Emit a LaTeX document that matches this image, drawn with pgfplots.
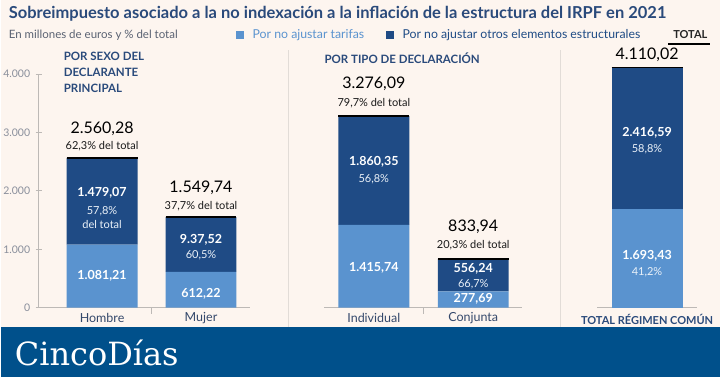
\documentclass[border=0pt]{standalone}
\usepackage{pgfplots}
\pgfplotsset{compat=1.18}
\usepackage{fontspec}
\setmainfont{Lato}
\newfontfamily\logofont{DejaVu Serif}
\definecolor{bg}{HTML}{FDF5EF}
\definecolor{banner}{HTML}{00508B}
\definecolor{lightbar}{HTML}{5A93CF}
\definecolor{darkbar}{HTML}{1F4B85}
\definecolor{titleblue}{HTML}{2A4A7B}
\definecolor{axisgrey}{HTML}{BDB9B6}
\definecolor{ticklab}{HTML}{8A8F9C}
\definecolor{catlab}{HTML}{34486B}
\definecolor{subgrey}{HTML}{5A6272}
\definecolor{sepgrey}{HTML}{E2DCD7}
\newcommand{\fs}[1]{\fontsize{#1bp}{#1bp}\selectfont}
\pgfplotsset{
  panel/.style={
    scale only axis, height=234bp, ymin=0, ymax=4000,
    ybar stacked, bar width=71bp, clip=false,
    axis x line*=bottom, enlargelimits=false,
    axis line style={axisgrey, line width=0.8bp},
    tick style={axisgrey, line width=0.8bp},
    major tick length=6bp, xtick align=outside, ytick align=center,
    xticklabels={},
    /pgf/number format/assume math mode=true,
    /pgf/number format/1000 sep={.},
  },
  pone/.style={at={(38bp,69bp)}, anchor=south west, width=212bp, xmin=-0.641, xmax=1.5},
  ptwo/.style={at={(324bp,69bp)}, anchor=south west, width=198bp, xmin=-0.4975, xmax=1.4925},
  pthree/.style={at={(597bp,69bp)}, anchor=south west, width=100bp, xmin=-0.5, xmax=0.5},
  labels/.style={scale only axis, height=234bp, ymin=0, ymax=4000, clip=false, hide axis},
  topline/.style={black, line width=1.5bp, no marks},
}
\tikzset{
  val/.style={font=\fs{16}, text=black, inner sep=0pt},
  pct/.style={font=\fs{11}, text=black!90, inner sep=0pt},
  inv/.style={font=\fs{12.5}\bfseries, text=white, inner sep=0pt},
  inp/.style={font=\fs{11}, text=white!88!lightbar, inner sep=0pt},
  cat/.style={font=\fs{12.5}, text=catlab, inner sep=0pt},
}
\begin{document}
\begin{tikzpicture}[x=1bp,y=1bp]
\fill[bg] (0,0) rectangle (720,377);
% separators
\draw[sepgrey, line width=1bp] (288,50) -- (288,327);
\draw[sepgrey, line width=1bp] (560,50) -- (560,327);
% title
\node[anchor=west, inner sep=0pt, text=titleblue, font=\fs{16.5}\bfseries] at (8,363)
  {Sobreimpuesto asociado a la no indexación a la inflación de la estructura del IRPF en 2021};
\node[anchor=west, inner sep=0pt, text=subgrey, font=\fs{11.5}] at (8,342)
  {En millones de euros y \% del total};
% legend
\fill[lightbar] (236,338) rectangle (244,346);
\node[anchor=west, inner sep=0pt, text=lightbar, font=\fs{12.3}] at (252,342) {Por no ajustar tarifas};
\fill[darkbar] (386,338) rectangle (394,346);
\node[anchor=west, inner sep=0pt, text=darkbar, font=\fs{12.3}] at (402,342) {Por no ajustar otros elementos estructurales};
\node[anchor=west, inner sep=0pt, text=black!85, font=\fs{11}\bfseries] at (673,342) {TOTAL};
\draw[black, line width=1.2bp] (668,333) -- (710,333);
% panel titles
\node[anchor=north west, inner sep=0pt, align=left, text=titleblue, font=\fs{11.5}\bfseries] at (63,325)
  {POR SEXO DEL\\[4.3bp]DECLARANTE\\[4.3bp]PRINCIPAL};
\node[anchor=west, inner sep=0pt, text=titleblue, font=\fs{11.5}\bfseries] at (324,319) {POR TIPO DE DECLARACIÓN};

% ---------- Panel 1 ----------
\begin{axis}[panel, pone, axis y line*=left,
  ytick={0,1000,2000,3000,4000}, xtick={0.5},
  yticklabel style={font=\fs{10.5}, text=ticklab, xshift=-2bp}]
\addplot[fill=lightbar, draw=none] coordinates {(0,1081.21) (1,612.22)};
\addplot[fill=darkbar, draw=none] coordinates {(0,1479.07) (1,937.52)};
\end{axis}
\begin{axis}[labels, pone]
\addplot[topline] coordinates {(-0.3585,2560.28) (0.3585,2560.28)};
\addplot[topline] coordinates {(0.6415,1549.74) (1.3585,1549.74)};
\node[val] at (axis cs:0,3060) {2.560,28};
\node[pct] at (axis cs:0,2769) {62,3\% del total};
\node[inv] at (axis cs:0,1966) {1.479,07};
\node[inp] at (axis cs:0,1658) {57,8\%};
\node[inp] at (axis cs:0,1419) {del total};
\node[inv] at (axis cs:0,547) {1.081,21};
\node[val] at (axis cs:1,2051) {1.549,74};
\node[pct] at (axis cs:1,1744) {37,7\% del total};
\node[inv] at (axis cs:1,1162) {9.37,52};
\node[inp] at (axis cs:1,889) {60,5\%};
\node[inv] at (axis cs:1,239) {612,22};
\node[cat] at (axis cs:0,-171) {Hombre};
\node[cat] at (axis cs:1,-171) {Mujer};
\end{axis}

% ---------- Panel 2 ----------
\begin{axis}[panel, ptwo, axis y line=none, ytick=\empty, xtick={0.5}]
\addplot[fill=lightbar, draw=none] coordinates {(0,1415.74) (1,277.69)};
\addplot[fill=darkbar, draw=none] coordinates {(0,1860.35) (1,556.24)};
\end{axis}
\begin{axis}[labels, ptwo]
\addplot[topline] coordinates {(-0.357,3276.09) (0.357,3276.09)};
\addplot[topline] coordinates {(0.643,833.94) (1.357,833.94)};
\node[val] at (axis cs:0,3829) {3.276,09};
\node[pct] at (axis cs:0,3504) {79,7\% del total};
\node[inv] at (axis cs:0,2496) {1.860,35};
\node[inp] at (axis cs:0,2205) {56,8\%};
\node[inv] at (axis cs:0,684) {1.415,74};
\node[val] at (axis cs:1,1385) {833,94};
\node[pct] at (axis cs:1,1077) {20,3\% del total};
\node[inv] at (axis cs:1,667) {556,24};
\node[inp] at (axis cs:1,393) {66,7\%};
\node[inv] at (axis cs:1,154) {277,69};
\node[cat] at (axis cs:0,-171) {Individual};
\node[cat] at (axis cs:1,-171) {Conjunta};
\end{axis}

% ---------- Panel 3 ----------
\begin{axis}[panel, pthree, axis y line=none, ytick=\empty, xtick=\empty]
\addplot[fill=lightbar, draw=none] coordinates {(0,1693.43)};
\addplot[fill=darkbar, draw=none] coordinates {(0,2416.59)};
\end{axis}
\begin{axis}[labels, pthree]
\addplot[topline] coordinates {(-0.355,4110.02) (0.355,4110.02)};
\node[val] at (axis cs:0,4325) {4.110,02};
\node[inv] at (axis cs:0,2991) {2.416,59};
\node[inp] at (axis cs:0,2718) {58,8\%};
\node[inv] at (axis cs:0,889) {1.693,43};
\node[inp] at (axis cs:0,615) {41,2\%};
\node[font=\fs{11}\bfseries, text=titleblue, inner sep=0pt] at (axis cs:0,-205) {TOTAL RÉGIMEN COMÚN};
\end{axis}

% banner
\fill[banner] (0,0) rectangle (720,50);
\node[anchor=west, inner sep=0pt, text=white, font=\logofont\fs{32}] at (14,24) {CincoDías};
\end{tikzpicture}
\end{document}
